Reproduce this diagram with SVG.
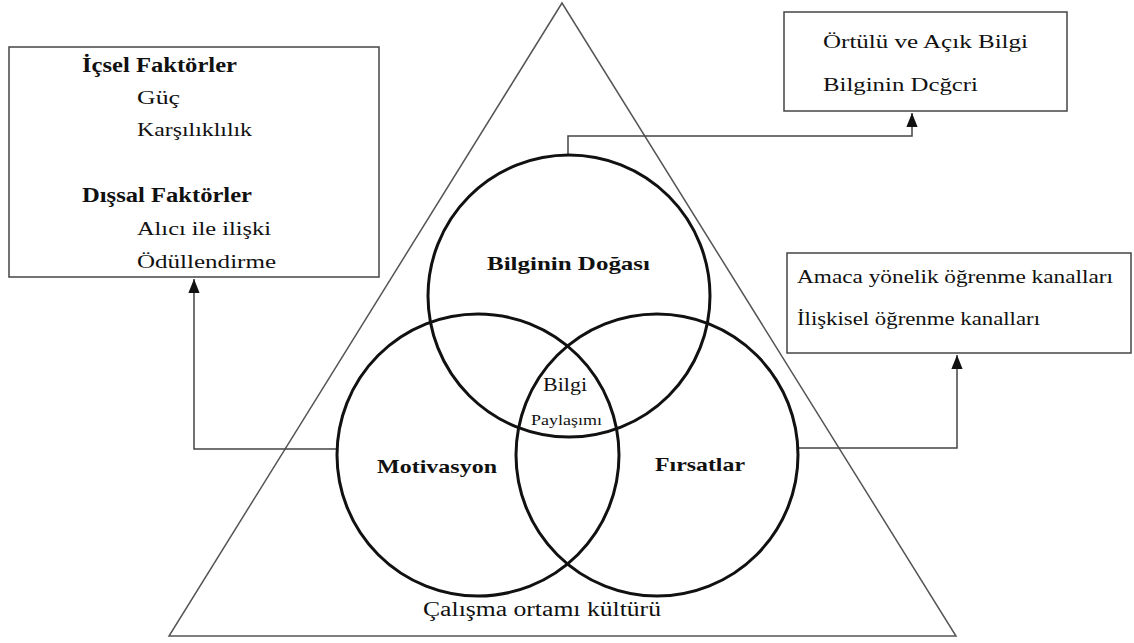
<svg xmlns="http://www.w3.org/2000/svg" width="1134" height="643" viewBox="0 0 1134 643">
<style>
  .t { fill: #111; }
  .b { font-weight: bold; }
  .box { fill: #fff; stroke: #444; stroke-width: 1.5; }
  .circ { fill: none; stroke: #111; stroke-width: 3; }
  .tri { fill: none; stroke: #555; stroke-width: 1.5; }
  .conn { fill: none; stroke: #444; stroke-width: 1.5; }
</style>
<defs>
  <marker id="arrL" viewBox="0 0 10 10" refX="10" refY="5" markerWidth="14" markerHeight="14" markerUnits="userSpaceOnUse" orient="auto">
    <path d="M0,1 L10,5 L0,9 z" fill="#111"/>
  </marker>
</defs>
<rect width="1134" height="643" fill="#fff"/>
<g font-family="'Liberation Serif', 'DejaVu Serif', serif" class="t">
<g id="triangle">
  <polygon class="tri" points="562,3 169,636 956,636"/>
  <text x="423" y="616" font-size="20" textLength="238" lengthAdjust="spacingAndGlyphs">Çalışma ortamı kültürü</text>
</g>
<g id="connectors">
  <polyline class="conn" points="568,155 568,136 912,136 912,113" marker-end="url(#arrL)"/>
  <polyline class="conn" points="338,449 194,449 194,279" marker-end="url(#arrL)"/>
  <polyline class="conn" points="797,448 957,448 957,355" marker-end="url(#arrL)"/>
</g>
<g id="circle-top">
  <circle class="circ" cx="569" cy="296" r="141"/>
  <text class="b" x="487" y="270" font-size="19" textLength="163" lengthAdjust="spacingAndGlyphs">Bilginin Doğası</text>
</g>
<g id="circle-left">
  <circle class="circ" cx="478" cy="455" r="141"/>
  <text class="b" x="377" y="473" font-size="19" textLength="120" lengthAdjust="spacingAndGlyphs">Motivasyon</text>
</g>
<g id="circle-right">
  <circle class="circ" cx="657" cy="455" r="141"/>
  <text class="b" x="655" y="471" font-size="19" textLength="90" lengthAdjust="spacingAndGlyphs">Fırsatlar</text>
</g>
<g id="center">
  <text x="543" y="391" font-size="19" textLength="44" lengthAdjust="spacingAndGlyphs">Bilgi</text>
  <text x="531" y="425" font-size="14" textLength="71" lengthAdjust="spacingAndGlyphs">Paylaşımı</text>
</g>
<g id="box-left">
  <rect class="box" x="9" y="47" width="370" height="230"/>
  <text class="b" x="82" y="72" font-size="20" textLength="155" lengthAdjust="spacingAndGlyphs">İçsel Faktörler</text>
  <text x="137" y="104" font-size="19" textLength="43" lengthAdjust="spacingAndGlyphs">Güç</text>
  <text x="137" y="136" font-size="19" textLength="115" lengthAdjust="spacingAndGlyphs">Karşılıklılık</text>
  <text class="b" x="82" y="202" font-size="20" textLength="170" lengthAdjust="spacingAndGlyphs">Dışsal Faktörler</text>
  <text x="137" y="235" font-size="19" textLength="134" lengthAdjust="spacingAndGlyphs">Alıcı ile ilişki</text>
  <text x="137" y="268" font-size="19" textLength="139" lengthAdjust="spacingAndGlyphs">Ödüllendirme</text>
</g>
<g id="box-top-right">
  <rect class="box" x="784" y="12" width="283" height="99"/>
  <text x="823" y="48" font-size="18" textLength="205" lengthAdjust="spacingAndGlyphs">Örtülü ve Açık Bilgi</text>
  <text x="823" y="91" font-size="18" textLength="155" lengthAdjust="spacingAndGlyphs">Bilginin Dcğcri</text>
</g>
<g id="box-right">
  <rect class="box" x="787" y="253" width="344" height="100"/>
  <text x="797" y="283" font-size="19" textLength="316" lengthAdjust="spacingAndGlyphs">Amaca yönelik öğrenme kanalları</text>
  <text x="797" y="325" font-size="19" textLength="243" lengthAdjust="spacingAndGlyphs">İlişkisel öğrenme kanalları</text>
</g>
</g>
</svg>
